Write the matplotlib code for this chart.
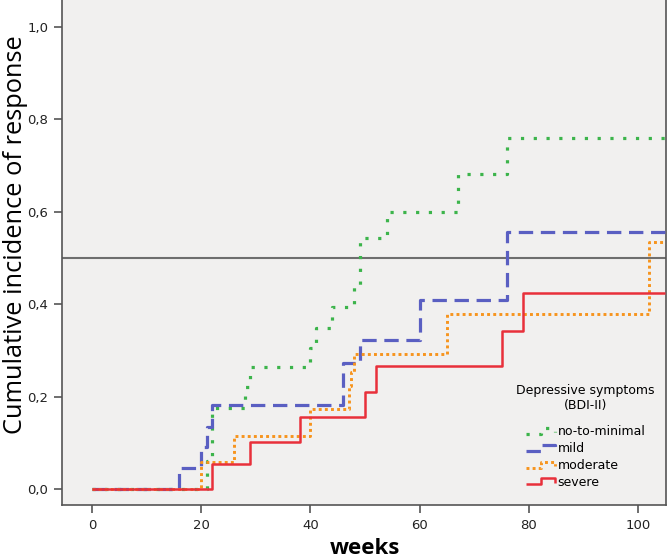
import numpy as np
import matplotlib
matplotlib.use("Agg")
import matplotlib.pyplot as plt
from matplotlib.lines import Line2D
from matplotlib.legend_handler import HandlerBase

# ---- data ----
groups = ["no-to-minimal", "mild", "moderate", "severe"]

green_t = [0, 21, 22, 28, 29, 40, 41, 44, 48, 49, 54, 67, 76, 105]
green_v = [0, 0.06, 0.175, 0.22, 0.264, 0.305, 0.349, 0.393, 0.442, 0.544, 0.600, 0.681, 0.760, 0.760]

blue_t = [0, 16, 20, 21, 22, 46, 49, 60, 76, 105]
blue_v = [0, 0.046, 0.09, 0.135, 0.182, 0.273, 0.323, 0.408, 0.555, 0.555]

orange_t = [0, 20, 26, 40, 47, 47.5, 48, 65, 102, 105]
orange_v = [0, 0.058, 0.114, 0.173, 0.223, 0.253, 0.291, 0.378, 0.535, 0.535]

red_t = [0, 22, 29, 38, 50, 52, 75, 79, 105]
red_v = [0, 0.053, 0.102, 0.155, 0.21, 0.267, 0.341, 0.423, 0.423]

x_ticks = [0, 20, 40, 60, 80, 100]
y_ticks = [0.0, 0.2, 0.4, 0.6, 0.8, 1.0]
y_ticklabels = ["0,0", "0,2", "0,4", "0,6", "0,8", "1,0"]
ref_level = 0.5

# ---- styles ----
series = [
    (green_t, green_v, dict(color="#3cb44b", lw=2.3, linestyle=(0, (1, 3.0)))),
    (blue_t, blue_v, dict(color="#5a5fc2", lw=2.3, linestyle=(0, (4.5, 2.4)))),
    (orange_t, orange_v, dict(color="#f7941d", lw=2.1, linestyle=(0, (1, 1.1)))),
    (red_t, red_v, dict(color="#e8303a", lw=1.8, linestyle="-")),
]


class StepHandler(HandlerBase):
    def create_artists(self, legend, orig_handle, xdescent, ydescent,
                       width, height, fontsize, trans):
        xs = np.array([0, 0.5, 0.5, 1.0, 1.0]) * width - xdescent
        ys = np.array([0.15, 0.15, 0.85, 0.85, 0.35]) * height - ydescent
        line = Line2D(xs, ys)
        self.update_prop(line, orig_handle, legend)
        line.set_transform(trans)
        return [line]


fig = plt.figure(figsize=(6.69, 5.60), dpi=100)
ax = fig.add_axes([0.0927, 0.098, 0.9028, 0.902])
ax.set_facecolor("#f1f0ef")

ax.axhline(ref_level, color="#6e6e6e", lw=1.5, zorder=1)

handles = []
for (t, v, st), name in zip(series, groups):
    ln, = ax.step(t, v, where="post", label=name, zorder=3,
                  solid_capstyle="butt", dash_capstyle="butt", **st)
    handles.append(ln)

ax.set_xlim(-5.5, 105.1)
ax.set_ylim(-0.035, 1.058)
ax.set_xticks(x_ticks)
ax.set_xticklabels([str(x) for x in x_ticks])
ax.set_yticks(y_ticks)
ax.set_yticklabels(y_ticklabels)

ax.spines["top"].set_visible(False)
for s in ["left", "bottom", "right"]:
    ax.spines[s].set_color("#555555")
    ax.spines[s].set_linewidth(1.2)

ax.tick_params(axis="both", direction="out", length=6, width=1.2,
               color="#555555", labelsize=9.5, labelcolor="#222222", pad=4)

ax.set_ylabel("Cumulative incidence of response", fontsize=18.3,
              family=["Open Sans", "DejaVu Sans"])
ax.yaxis.set_label_coords(-0.057, 0.535)
ax.set_xlabel("weeks", fontsize=16, fontweight="bold",
              family=["Open Sans", "DejaVu Sans"])
ax.xaxis.set_label_coords(0.502, -0.066)

leg = ax.legend(handles=handles, title="Depressive symptoms\n(BDI-II)",
                loc="upper left", bbox_to_anchor=(0.738, 0.258),
                frameon=False, fontsize=9, title_fontsize=9,
                handler_map={Line2D: StepHandler()},
                handlelength=2.3, handletextpad=0.2, labelspacing=0.3,
                borderpad=0.2)
leg.get_title().set_multialignment("center")
leg._legend_box.sep = 10

fig.savefig("out.png", dpi=100, facecolor="white")
